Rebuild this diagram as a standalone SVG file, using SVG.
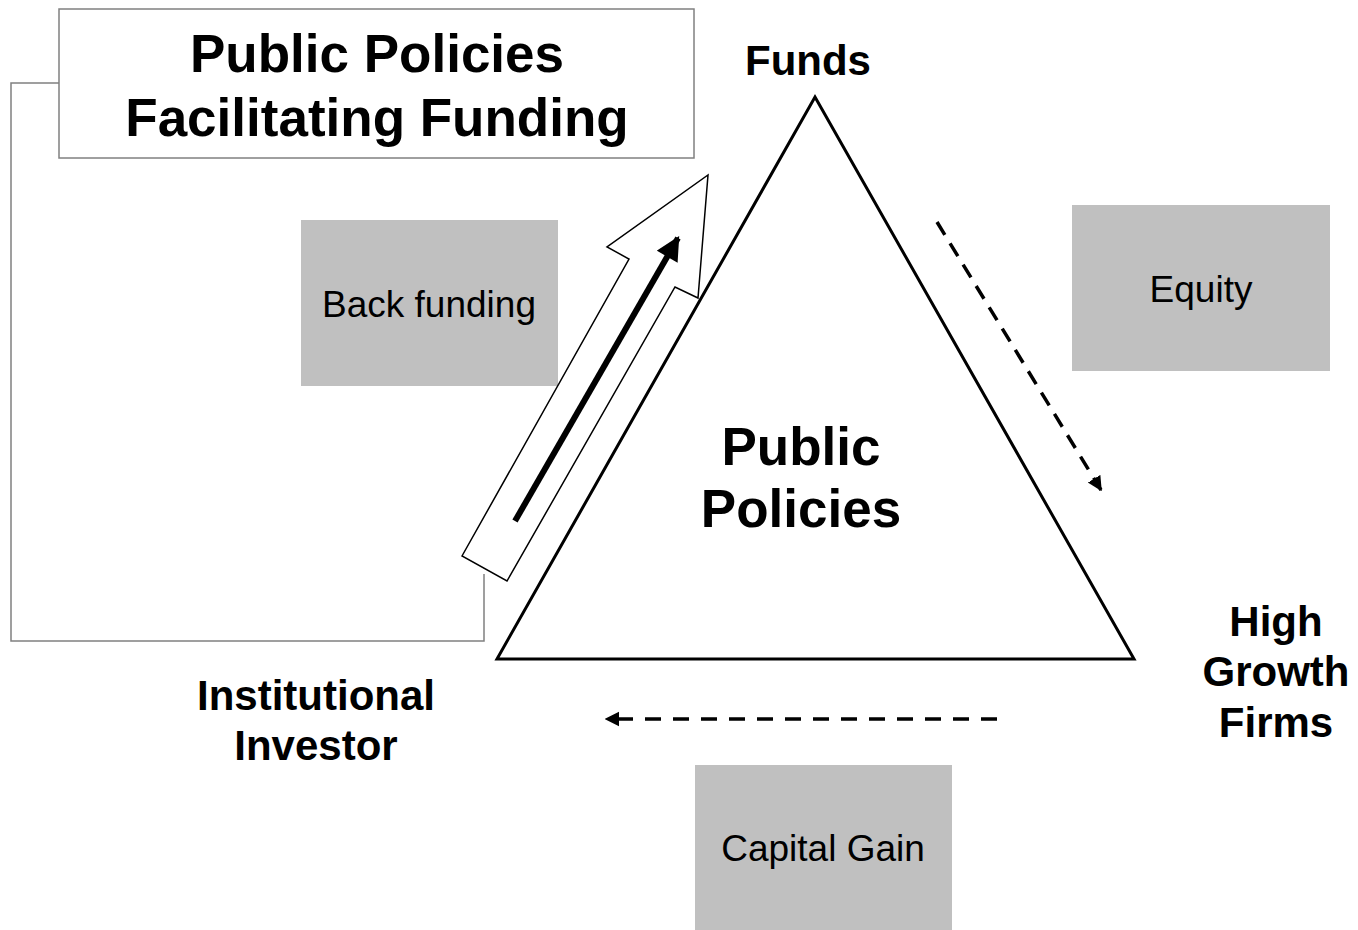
<svg xmlns="http://www.w3.org/2000/svg" width="1358" height="930" viewBox="0 0 1358 930">
  <style>
    .bold { font-family: "Liberation Sans", Arial, sans-serif; font-weight: bold; fill: #000; text-anchor: middle; }
    .reg { font-family: "Liberation Sans", Arial, sans-serif; fill: #000; text-anchor: middle; }
    .gray { fill: #c0c0c0; stroke: none; }
    .frame { fill: #fff; stroke: #808080; stroke-width: 1.5; }
    .dash { fill: none; stroke: #000; stroke-width: 3.5; }
  </style>
  <defs>
    <marker id="headSmall" viewBox="0 0 10 10" refX="9" refY="5" markerWidth="4.2" markerHeight="4.8" markerUnits="strokeWidth" orient="auto">
      <path d="M0,0 L10,5 L0,10 Z" fill="#000"/>
    </marker>
    <marker id="headBold" viewBox="0 0 10 10" refX="9" refY="5" markerWidth="4.2" markerHeight="4" markerUnits="strokeWidth" orient="auto">
      <path d="M0,0 L10,5 L0,10 Z" fill="#000"/>
    </marker>
  </defs>

  <!-- bracket linking the policy box to the investor corner -->
  <g id="bracket">
    <polyline points="59,83 11,83 11,641 484,641 484,574" fill="none" stroke="#808080" stroke-width="1.5"/>
  </g>

  <g id="policy-box">
    <rect class="frame" x="59" y="9" width="635" height="149"/>
    <text class="bold" font-size="53" x="377" y="72">Public Policies</text>
    <text class="bold" font-size="53" x="377" y="136">Facilitating Funding</text>
  </g>

  <g id="triangle">
    <polygon points="815,97 1134,659 497,659" fill="#fff" stroke="#000" stroke-width="3" stroke-linejoin="miter"/>
    <text class="bold" font-size="53" x="801" y="465">Public</text>
    <text class="bold" font-size="53" x="801" y="527">Policies</text>
  </g>

  <g id="funds">
    <text class="bold" font-size="42" x="808" y="75">Funds</text>
  </g>

  <g id="high-growth-firms">
    <text class="bold" font-size="42" x="1276" y="636">High</text>
    <text class="bold" font-size="42" x="1276" y="686">Growth</text>
    <text class="bold" font-size="42" x="1276" y="737">Firms</text>
  </g>

  <g id="institutional-investor">
    <text class="bold" font-size="42" x="316" y="710">Institutional</text>
    <text class="bold" font-size="42" x="316" y="760">Investor</text>
  </g>

  <g id="back-funding">
    <rect class="gray" x="301" y="220" width="257" height="166"/>
    <text class="reg" font-size="37" x="429" y="317">Back funding</text>
  </g>

  <g id="equity">
    <rect class="gray" x="1072" y="205" width="258" height="166"/>
    <text class="reg" font-size="37" x="1201" y="302">Equity</text>
  </g>

  <g id="capital-gain">
    <rect class="gray" x="695" y="765" width="257" height="165"/>
    <text class="reg" font-size="37" x="823" y="861">Capital Gain</text>
  </g>

  <g id="connectors">
    <!-- hollow block arrow: investor to funds -->
    <polygon points="462,556 629,259 607,247 708,175 698,298 675,287 507,581" fill="#fff" stroke="#000" stroke-width="1.5" stroke-linejoin="miter"/>
    <!-- solid arrow inside the block arrow -->
    <line x1="515" y1="521" x2="678" y2="238" stroke="#000" stroke-width="6" marker-end="url(#headBold)"/>
    <!-- equity flow: funds to firms -->
    <line class="dash" x1="937" y1="222" x2="1101" y2="490" stroke-dasharray="15 10" marker-end="url(#headSmall)"/>
    <!-- capital gain flow: firms to investor -->
    <line class="dash" x1="997" y1="719" x2="606" y2="719" stroke-dasharray="16 12" marker-end="url(#headSmall)"/>
  </g>
</svg>
